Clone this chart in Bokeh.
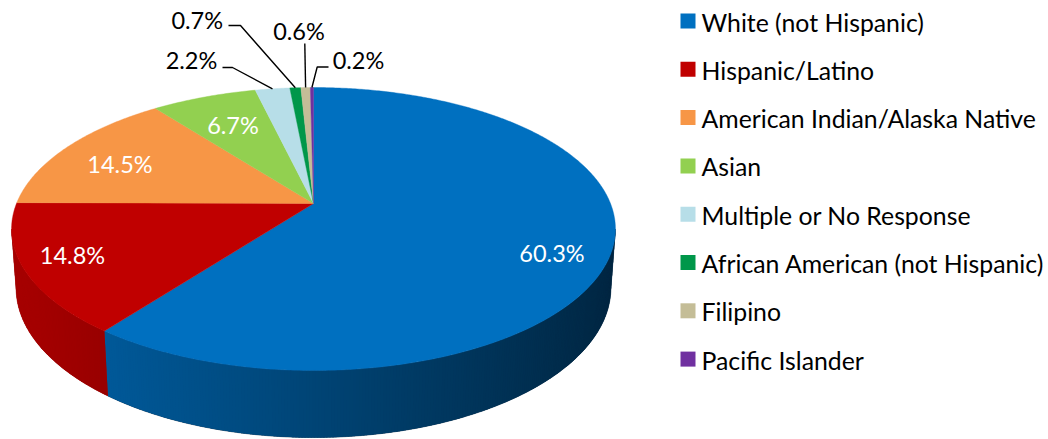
import math
from bokeh.plotting import figure
from bokeh.models import Range1d
from bokeh.core.properties import value
from bokeh.embed import file_html
from bokeh.resources import INLINE

# ---- data ----
categories = ["White (not Hispanic)", "Hispanic/Latino", "American Indian/Alaska Native",
              "Asian", "Multiple or No Response", "African American (not Hispanic)",
              "Filipino", "Pacific Islander"]
values = [60.3, 14.8, 14.5, 6.7, 2.2, 0.7, 0.6, 0.2]
colors = ["#0070C0", "#C00000", "#F79646", "#92D050", "#B7DEE8", "#00974A", "#C4BD97", "#7030A0"]
labels = [f"{v}%" for v in values]

# ---- layout (pixel positions of label texts) ----
label_pos = [(551.5, 252), (72, 254.5), (119.5, 163), (232.5, 124),
             (191, 59.5), (196.7, 19.5), (298.5, 30.5), (358, 59.5)]
label_inside = [True, True, True, True, False, False, False, False]
# leader line start / elbow points for outside labels
leader_pts = {4: [(222, 67), (232, 67)], 5: [(228, 25), (240, 25)],
              6: [(304.3, 43)], 7: [(328, 66.5), (316.7, 66.5)]}

# ---- 3D pie projection ----
CX, CY = 313.0, 203.0
A, Q, K = 297.0, 136.9, 0.1802
E, M = 0.0147, 58.4


def top(th):
    r = math.radians(th)
    u, v = math.sin(r), -math.cos(r)
    w = 1 - K * v
    return CX + A * u / w, CY + Q * v / w


def bot(th):
    r = math.radians(th)
    u, v = math.sin(r), -math.cos(r)
    w = 1 - K * v + E
    return CX + A * u / w, CY + (Q * v + M) / w


def shade(hexcol, x):
    f = max(0.3, min(1.0, 0.88 - 0.00088 * (x - 10)))
    r, g, b = int(hexcol[1:3], 16), int(hexcol[3:5], 16), int(hexcol[5:7], 16)
    return "#%02x%02x%02x" % (int(r * f), int(g * f), int(b * f))


total = sum(values)
bounds = []
acc = 0.0
for v in values:
    a0 = acc / total * 360
    acc += v
    a1 = acc / total * 360
    bounds.append((a0, a1))

FRONT0 = 90 + math.degrees(math.asin(K))
FRONT1 = 270 - math.degrees(math.asin(K))

W, H = 1048, 439
p = figure(width=W, height=H, x_range=Range1d(0, W), y_range=Range1d(H, 0),
           output_backend="svg", toolbar_location=None, min_border=0,
           x_axis_location=None, y_axis_location=None)
p.grid.visible = False
p.outline_line_color = None
p.background_fill_color = "white"
p.border_fill_color = "white"

# side: one base band per slice, then slightly overlapping gradient strips
bx, by, bc = [], [], []
sx, sy, sc = [], [], []
for (a0, a1), col in zip(bounds, colors):
    s0, s1 = max(a0, FRONT0), min(a1, FRONT1)
    if s1 <= s0:
        continue
    n = max(1, int(math.ceil((s1 - s0) / 0.5)))
    angs = [s0 + (s1 - s0) * i / n for i in range(n + 1)]
    tp = [top(a) for a in angs]
    bp = [bot(a) for a in angs]
    bx.append([q[0] for q in tp] + [q[0] for q in bp[::-1]])
    by.append([q[1] for q in tp] + [q[1] for q in bp[::-1]])
    bc.append(shade(col, max(q[0] for q in tp)))
    for i in range(n):
        t0 = angs[i]
        t1 = min(s1, angs[i + 1] + 0.3)
        p0, p1, q1, q0 = top(t0), top(t1), bot(t1), bot(t0)
        xs = [p0[0], p1[0], q1[0], q0[0]]
        ys = [p0[1], p1[1], q1[1], q0[1]]
        sx.append(xs)
        sy.append(ys)
        sc.append(shade(col, sum(xs) / 4))
p.patches(bx, by, fill_color=bc, line_color=bc, line_width=0.5)
p.patches(sx, sy, fill_color=sc, line_color=None)

# top faces
tx, ty = [], []
for (a0, a1) in bounds:
    n = max(2, int(math.ceil((a1 - a0) / 0.5)))
    xs, ys = [CX], [CY]
    for i in range(n + 1):
        x, y = top(a0 + (a1 - a0) * i / n)
        xs.append(x)
        ys.append(y)
    tx.append(xs)
    ty.append(ys)
p.patches(tx, ty, fill_color=colors, line_color=colors, line_width=0.4)

# leader lines
lx, ly = [], []
for i, pts in leader_pts.items():
    a0, a1 = bounds[i]
    ex, ey = top((a0 + a1) / 2)
    xs = [pt[0] for pt in pts] + [ex]
    ys = [pt[1] for pt in pts] + [ey]
    lx.append(xs)
    ly.append(ys)
p.multi_line(lx, ly, line_color="black", line_width=1.4)

# data labels
FONT = value("Lato")
for i, lab in enumerate(labels):
    x, y = label_pos[i]
    p.text([x], [y], text=[lab], text_font=FONT, text_font_size="23.5px",
           text_align="center", text_baseline="middle",
           text_color="white" if label_inside[i] else "black")

# legend
row_y = [20.5 + 48.3 * i for i in range(len(categories))]
p.rect([687.5] * len(categories), row_y, width=15, height=15,
       fill_color=colors, line_color=None)
p.text([701] * len(categories), [y + 1 for y in row_y], text=categories,
       text_font=FONT, text_font_size="24.8px", text_align="left",
       text_baseline="middle", text_color="black")

open("out.html", "w").write(file_html(p, INLINE))
